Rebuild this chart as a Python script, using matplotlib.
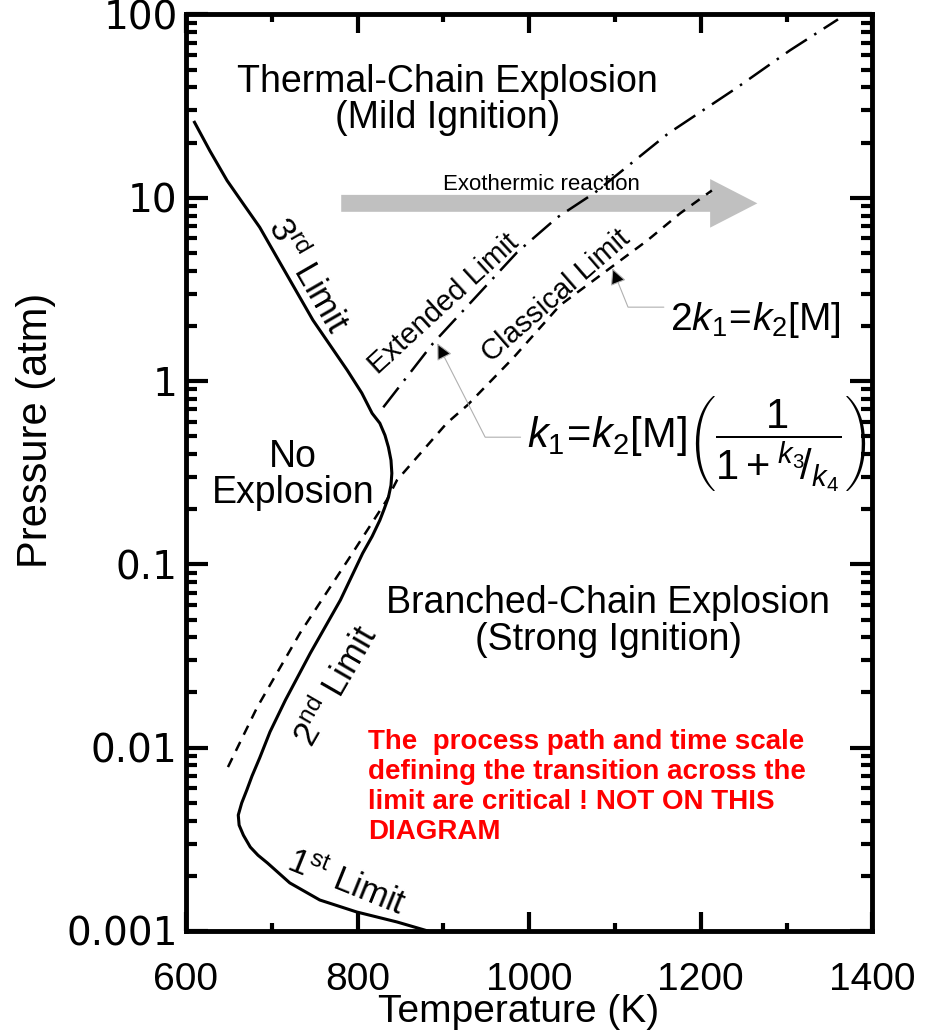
import numpy as np
import matplotlib
matplotlib.use('Agg')
import matplotlib.pyplot as plt
from matplotlib.ticker import MultipleLocator, LogLocator, NullFormatter

plt.rcParams['font.family'] = ['Liberation Sans', 'DejaVu Sans']
plt.rcParams['mathtext.fontset'] = 'custom'
plt.rcParams['mathtext.rm'] = 'Liberation Sans'
plt.rcParams['mathtext.it'] = 'Liberation Sans:italic'
plt.rcParams['mathtext.bf'] = 'Liberation Sans:bold'

# explosion limit (solid): 3rd -> 2nd -> 1st limit
limit_T = [610, 628, 648, 668, 686, 710, 748, 788, 805, 817, 826, 832, 836, 839, 840,
           839, 836, 831, 826, 817, 806, 780, 745, 716, 698, 686, 677, 671, 665,
           661, 662, 667, 675, 684, 695, 721, 756, 799, 846, 882]
limit_P = [25.8, 18.0, 12.4, 9.1, 6.9, 4.39, 2.15, 1.146, 0.86, 0.667, 0.589, 0.506,
           0.436, 0.370, 0.314, 0.270, 0.232, 0.200, 0.174, 0.142, 0.115, 0.0638,
           0.0328, 0.0182, 0.0122, 0.0088, 0.0070, 0.00588, 0.00499, 0.00429,
           0.00378, 0.00333, 0.00287, 0.00259, 0.00235, 0.00183, 0.001476,
           0.00127, 0.00112, 0.001]

# classical limit 2k1 = k2[M] (dashed)
classic_T = [649, 683, 733, 791, 834, 846, 904, 928, 981, 1036, 1138, 1176, 1213]
classic_P = [0.00784, 0.0166, 0.0422, 0.1094, 0.224, 0.288, 0.589, 0.738, 1.33,
             2.59, 5.86, 8.22, 10.96]

# extended limit (dash-dot)
ext_T = [830, 888, 986, 1033, 1077, 1162, 1241, 1304, 1360]
ext_P = [0.719, 1.607, 5.04, 7.82, 10.69, 22.4, 39.5, 63.7, 94.0]

x_ticks = [600, 800, 1000, 1200, 1400]
y_ticks = [0.001, 0.01, 0.1, 1, 10, 100]
y_tick_labels = ['0.001', '0.01', '0.1', '1', '10', '100']

fig = plt.figure(figsize=(9.39, 10.31), dpi=100)
ax = fig.add_axes([0.198, 0.097, 0.731, 0.889])

ax.plot(limit_T, limit_P, color='black', lw=2.2, zorder=3, solid_joinstyle='round')
ax.plot(classic_T, classic_P, color='black', lw=1.8, dashes=(4, 3.2), zorder=3)
ax.plot(ext_T, ext_P, color='black', lw=1.8, dashes=(10, 3.5, 1, 3.5), zorder=3)

ax.set_yscale('log')
ax.set_xlim(600, 1400)
ax.set_ylim(0.001, 100)

# exothermic reaction arrow
ax.annotate('', xy=(1266, 9.32), xytext=(781, 9.32),
            arrowprops=dict(arrowstyle='simple,head_length=3.4,head_width=3.5,tail_width=1.22',
                            color='#c0c0c0', shrinkA=0, shrinkB=0, lw=0,
                            mutation_scale=10),
            zorder=1)
ax.text(1014, 11.8, 'Exothermic reaction', fontsize=16, ha='center', va='center', zorder=2)

# region labels
ax.text(905, 42.6, 'Thermal-Chain Explosion', fontsize=27, ha='center', va='center')
ax.text(905, 27.1, '(Mild Ignition)', fontsize=27, ha='center', va='center')
ax.text(725, 0.384, 'No', fontsize=27, ha='center', va='center')
ax.text(725, 0.244, 'Explosion', fontsize=27, ha='center', va='center')
ax.text(1092, 0.0614, 'Branched-Chain Explosion', fontsize=27, ha='center', va='center')
ax.text(1092, 0.0386, '(Strong Ignition)', fontsize=27, ha='center', va='center')

# curve labels
ax.text(742, 3.78, r'3$^{\mathrm{rd}}$ Limit', fontsize=25, rotation=-60,
        rotation_mode='anchor', ha='center', va='center')
ax.text(775, 0.0217, r'2$^{\mathrm{nd}}$ Limit', fontsize=25, rotation=60,
        rotation_mode='anchor', ha='center', va='center')
ax.text(786, 0.00182, r'1$^{\mathrm{st}}$ Limit', fontsize=25, rotation=-22,
        rotation_mode='anchor', ha='center', va='center')
ax.text(901, 2.65, 'Extended Limit', fontsize=21, rotation=42.5,
        rotation_mode='anchor', ha='center', va='center')
ax.text(1031, 2.90, 'Classical Limit', fontsize=21, rotation=41,
        rotation_mode='anchor', ha='center', va='center')

# formulas with pointers
ax.annotate('', xy=(1097, 4.12), xytext=(1157, 2.53),
            arrowprops=dict(arrowstyle='-|>', connectionstyle='angle,angleA=0,angleB=-68,rad=0',
                            edgecolor='#b0b0b0', facecolor='black', lw=0.8,
                            shrinkA=0, shrinkB=0, mutation_scale=25))
ax.text(1164, 2.15, r'$2k_1\!=\!k_2[\mathrm{M}]$', fontsize=28, ha='left', va='center')

ax.annotate('', xy=(893, 1.607), xytext=(990, 0.494),
            arrowprops=dict(arrowstyle='-|>', connectionstyle='angle,angleA=0,angleB=-63,rad=0',
                            edgecolor='#b0b0b0', facecolor='black', lw=0.8,
                            shrinkA=0, shrinkB=0, mutation_scale=25))
ax.text(998, 0.458,
        r'$k_1\!=\!k_2[\mathrm{M}]\left(\dfrac{1}{1+{}^{k_3}\!/_{k_4}}\right)$',
        fontsize=30, ha='left', va='center')

ax.text(812, 0.01262,
        'The  process path and time scale\ndefining the transition across the\n'
        'limit are critical ! NOT ON THIS\nDIAGRAM',
        fontsize=20, fontweight='bold', color='#ff0000', ha='left', va='top')

# axes styling
ax.set_xticks(x_ticks)
ax.xaxis.set_minor_locator(MultipleLocator(100))
ax.set_yticks(y_ticks)
ax.set_yticklabels(y_tick_labels, family='DejaVu Sans')
ax.yaxis.set_minor_locator(LogLocator(base=10, subs=np.arange(2, 10)))
ax.yaxis.set_minor_formatter(NullFormatter())

ax.tick_params(which='both', direction='in', top=True, right=True, width=3)
ax.tick_params(axis='y', which='major', length=16, labelsize=28, pad=6)
ax.tick_params(axis='y', which='minor', length=8)
ax.tick_params(axis='x', which='major', length=14, labelsize=28, pad=22)
ax.tick_params(axis='x', which='minor', length=6)
for s in ax.spines.values():
    s.set_linewidth(3.5)

ax.set_xlabel('Temperature (K)', fontsize=28)
ax.xaxis.set_label_coords(0.485, -0.069)
ax.set_ylabel('Pressure (atm)', fontsize=30)
ax.yaxis.set_label_coords(-0.19, 0.546)

fig.savefig('out.png', dpi=100)
